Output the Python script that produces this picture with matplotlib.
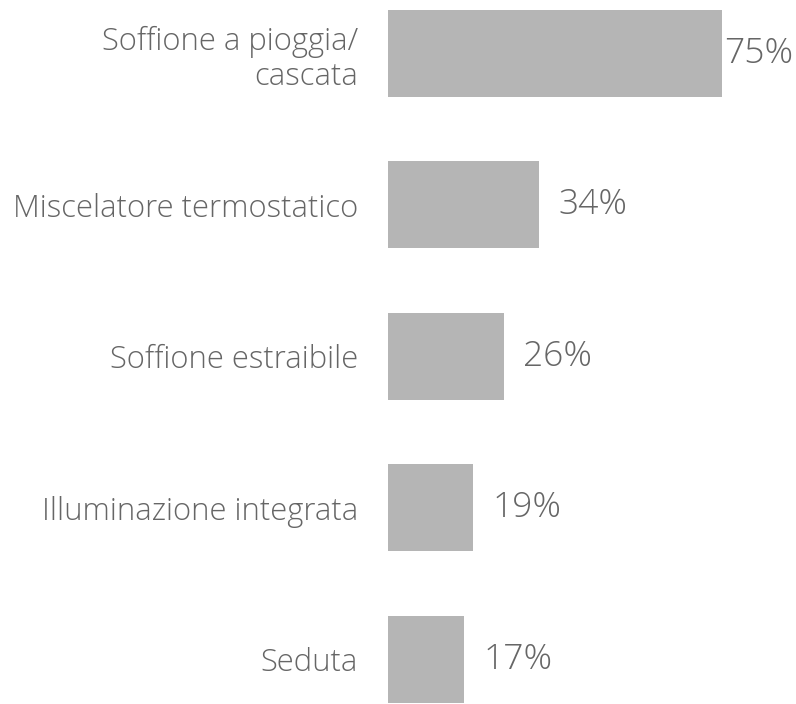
import matplotlib.pyplot as plt

# Data
categories = ["Soffione a pioggia/\ncascata", "Miscelatore termostatico",
              "Soffione estraibile", "Illuminazione integrata", "Seduta"]
values = [75, 34, 26, 19, 17]
value_labels = ["75%", "34%", "26%", "19%", "17%"]

plt.rcParams["font.family"] = ["Open Sans", "DejaVu Sans"]

fig = plt.figure(figsize=(7.96, 7.04), dpi=100)
ax = fig.add_axes([388 / 796, 0, 408 / 796, 1])

y = list(range(len(values)))
ax.barh(y, values, height=0.574, color="#b5b5b5")

ax.set_xlim(0, 75 * 408 / 334)
ax.set_ylim(4.294, -0.353)

ax.set_yticks(y)
ax.set_yticklabels(categories, fontsize=22.3, color="#666666", ha="right",
                   fontweight="light", linespacing=1.15)
ax.tick_params(axis="y", length=0, pad=21.6)
ax.set_xticks([])
for s in ax.spines.values():
    s.set_visible(False)

# Value labels to the right of each bar, kept inside the figure
fig.canvas.draw()
renderer = fig.canvas.get_renderer()
for yi, v, lab in zip(y, values, value_labels):
    t = ax.annotate(lab, (v, yi), xytext=(14, 0), textcoords="offset points",
                    va="center", ha="left", fontsize=25.5, color="#666666",
                    fontweight="light")
    bb = t.get_window_extent(renderer)
    if bb.x1 > fig.bbox.width - 3:
        shift = (bb.x1 - (fig.bbox.width - 3)) * 72 / fig.dpi
        t.set_position((14 - shift, 0))

fig.savefig("out.png", dpi=100)
